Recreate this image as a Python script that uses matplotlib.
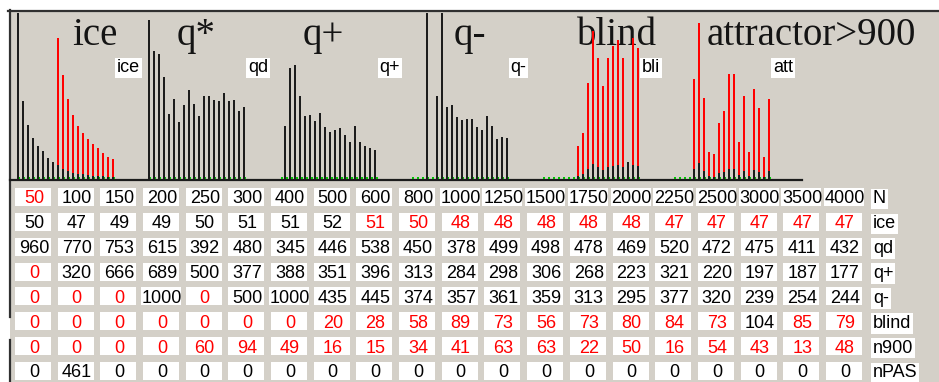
import numpy as np
import matplotlib.pyplot as plt
from matplotlib.patches import Rectangle
from matplotlib import font_manager

# one value per run size N
N      = [50, 100, 150, 200, 250, 300, 400, 500, 600, 800, 1000, 1250, 1500, 1750, 2000, 2250, 2500, 3000, 3500, 4000]
ice    = [50, 47, 49, 49, 50, 51, 51, 52, 51, 50, 48, 48, 48, 48, 48, 47, 47, 47, 47, 47]
qd     = [960, 770, 753, 615, 392, 480, 345, 446, 538, 450, 378, 499, 498, 478, 469, 520, 472, 475, 411, 432]
qplus  = [0, 320, 666, 689, 500, 377, 388, 351, 396, 313, 284, 298, 306, 268, 223, 321, 220, 197, 187, 177]
qminus = [0, 0, 0, 1000, 0, 500, 1000, 435, 445, 374, 357, 361, 359, 313, 295, 377, 320, 239, 254, 244]
blind  = [0, 0, 0, 0, 0, 0, 0, 20, 28, 58, 89, 73, 56, 73, 80, 84, 73, 104, 85, 79]
n900   = [0, 0, 0, 0, 60, 94, 49, 16, 15, 34, 41, 63, 63, 22, 50, 16, 54, 43, 13, 48]
npas   = [0, 461, 0, 0, 0, 0, 0, 0, 0, 0, 0, 0, 0, 0, 0, 0, 0, 0, 0, 0]

# columns flagged (drawn red) in each row
red_N      = [0]
red_ice    = list(range(8, 20))
red_qd     = []
red_qplus  = [0]
red_qminus = [0, 1, 2, 4]
red_blind  = [i for i in range(20) if i != 17]
red_n900   = list(range(20))
red_npas   = []

row_names   = ['N', 'ice', 'qd', 'q+', 'q-', 'blind', 'n900', 'nPAS']
hist_titles = ['ice', 'q*', 'q+', 'q-', 'blind', 'attractor>900']
hist_tags   = ['ice', 'qd', 'q+', 'q-', 'bli', 'att']

W, H = 939, 382
GREY = '#d4d0c8'
DARK = '#1c1c1c'
RED = '#ff0000'
GREEN = '#00c000'

names = {f.name for f in font_manager.fontManager.ttflist}
if 'Liberation Sans Narrow' in names:
    SANS, FS = 'Liberation Sans Narrow', 14
else:
    SANS, FS = 'Liberation Sans', 13
cap = 0.716 * FS * 100 / 72  # cap height in px

fig = plt.figure(figsize=(W / 100, H / 100), dpi=100, facecolor='white')
bg = fig.add_axes([0, 0, 1, 1])
bg.set_xlim(0, W)
bg.set_ylim(H, 0)
bg.axis('off')
bg.add_patch(Rectangle((10, 10), W - 10, H - 10, facecolor=GREY, edgecolor='none'))
bg.plot([8, W], [10.5, 10.5], color='#303030', lw=1.6)
bg.plot([10, 10], [10, 317], color='#303030', lw=1.6)
bg.plot([10, 10], [340, H], color='#303030', lw=1.6)
bg.plot([10, 802], [179.5, 179.5], color=DARK, lw=1.6)

# histogram strip: x in bar slots of 5 px, y as a fraction of full height
hx = fig.add_axes([10 / W, (H - 179) / H, (W - 10) / W, 166 / H])
hx.set_xlim(-1.6, (W - 18) / 5)
hx.set_ylim(0, 1)
hx.axis('off')
hx.patch.set_alpha(0)

fracs = [np.array(ice) / np.array(N), np.array(qd) / 1000, np.array(qplus) / 1000,
         np.array(qminus) / 1000, np.array(blind) / 1000, np.array(n900) / 1000]
flags = [red_ice, red_qd, red_qplus, red_qminus, red_blind, red_n900]
GAP = 26.24
title_off = [54, 27, 22, 42, 34, 33]

for g in range(6):
    idx = np.arange(20)
    x = g * GAP + idx
    h = fracs[g]
    red = np.isin(idx, flags[g])
    hx.bar(x + 0.25, 2 / 166, width=0.4, color=GREEN, linewidth=0)
    # flagged values get a 10x red bar behind the true one
    hx.bar(x[red], 10 * h[red], width=0.4, color=RED, linewidth=0)
    hx.bar(x, h, width=0.4, color=DARK, linewidth=0)

    x0 = 18 + 5 * g * GAP
    bg.text(x0 + title_off[g], 45, hist_titles[g], family='Liberation Serif', fontsize=28,
            color='#141414', ha='left', va='baseline')
    bg.text(x0 + 99, 66 + cap / 2, hist_tags[g], family=SANS, fontsize=FS, color='black',
            ha='left', va='baseline',
            bbox=dict(boxstyle='square,pad=0.1', facecolor='white', edgecolor='none'))

# value table
rows = [N, ice, qd, qplus, qminus, blind, n900, npas]
reds = [red_N, red_ice, red_qd, red_qplus, red_qminus, red_blind, red_n900, red_npas]
col_x = 34 + 42.68 * np.arange(20)
for j in range(len(rows)):
    y = 197 + 24.85 * j
    for i, v in enumerate(rows[j]):
        s = str(v)
        w = 40 if len(s) > 3 else 36
        bg.add_patch(Rectangle((col_x[i] - 1 - w / 2, y - 9), w, 18, facecolor='white', edgecolor='none'))
        bg.text(col_x[i], y + cap / 2, s, family=SANS, fontsize=FS,
                color=RED if i in reds[j] else 'black', ha='center', va='baseline')
    bg.text(873, y + cap / 2, row_names[j], family=SANS, fontsize=FS, color='black',
            ha='left', va='baseline',
            bbox=dict(boxstyle='square,pad=0.1', facecolor='white', edgecolor='none'))

fig.savefig('out.png', dpi=100, facecolor='white')
